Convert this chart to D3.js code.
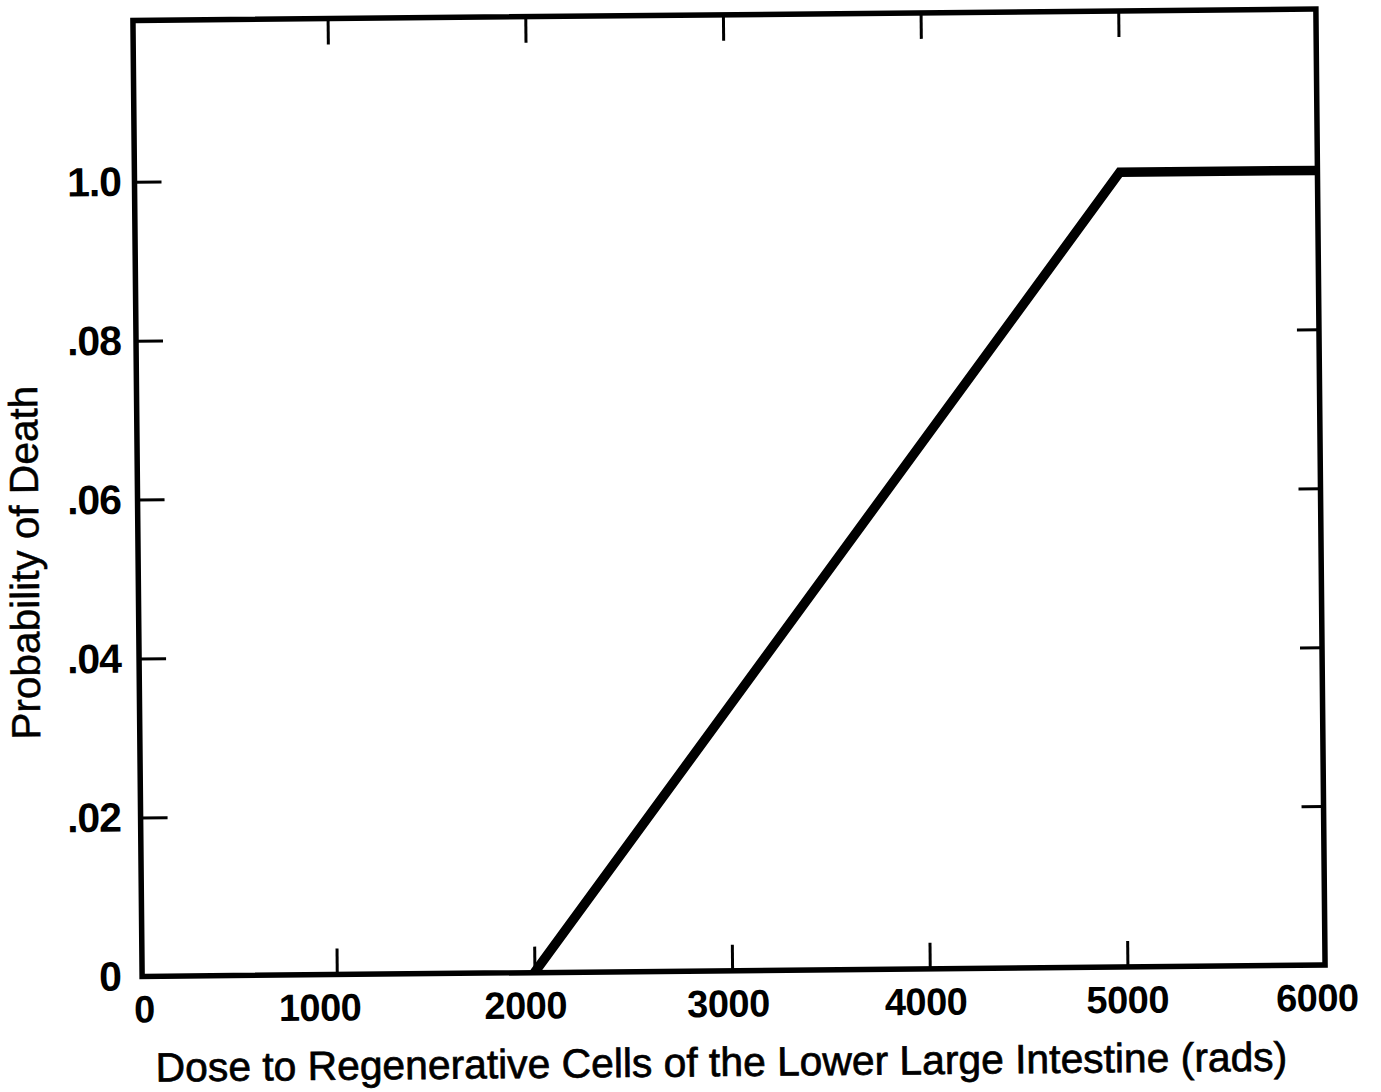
<!DOCTYPE html>
<html>
<head>
<meta charset="utf-8">
<script src="https://cdn.jsdelivr.net/npm/d3@7"></script>
<style>
  html, body { margin: 0; padding: 0; background: #fff; }
  svg { display: block; }
</style>
</head>
<body>
<svg id="chart" width="1381" height="1092"></svg>
<script>
// ---- data ----
const doses = [2000, 5000, 6000];                 // rads
const probabilities = [0, 0.10, 0.10];            // probability of death (as plotted)
const xTickValues = [0, 1000, 2000, 3000, 4000, 5000, 6000];
const xTickLabels = ["0", "1000", "2000", "3000", "4000", "5000", "6000"];
const yTickValues = [0, 0.02, 0.04, 0.06, 0.08, 0.10];
const yTickLabels = ["0", ".02", ".04", ".06", ".08", "1.0"];
const xTitle = "Dose to Regenerative Cells of the Lower Large Intestine (rads)";
const yTitle = "Probability of Death";

// ---- layout ----
const frame = { left: 137.5, right: 1320.5, top: 14.75, bottom: 970.75 };
const cx = (frame.left + frame.right) / 2, cy = (frame.top + frame.bottom) / 2;
const tilt = -0.55;
const sinT = Math.sin(-tilt * Math.PI / 180);
// hand-lettered label offsets in the original (layout only)
const xLabelNudge = [5, -17, -9, -4, -4, 0, -8];

const svg = d3.select("#chart");
const g = svg.append("g").attr("transform", `rotate(${tilt},${cx},${cy})`);

const x = d3.scaleLinear().domain([0, 6000]).range([134.5, frame.right]);
const y = d3.scaleLinear().domain([0, 0.1203]).range([frame.bottom, frame.top]);

const font = "'Liberation Sans', Arial, Helvetica, sans-serif";

// inner ticks
const xInner = xTickValues.filter(v => v > 0 && v < 6000);
const yInner = yTickValues.filter(v => v > 0);

const bottomAxis = d3.axisBottom(x).tickValues(xInner).tickSize(-26).tickFormat("");
const topAxis = d3.axisTop(x).tickValues(xInner).tickSize(-26).tickFormat("");
const leftAxis = d3.axisLeft(y).tickValues(yInner).tickSize(-27).tickFormat("");
const rightAxis = d3.axisRight(y).tickValues(yInner).tickSize(-22).tickFormat("");

function styleAxis(sel) {
  sel.select(".domain").remove();
  sel.selectAll(".tick line").attr("stroke", "#000").attr("stroke-width", 3);
}
g.append("g").attr("transform", `translate(0,${frame.bottom})`).call(bottomAxis).call(styleAxis);
g.append("g").attr("transform", `translate(0,${frame.top})`).call(topAxis).call(styleAxis);
g.append("g").attr("transform", `translate(${frame.left},0)`).call(leftAxis).call(styleAxis);
g.append("g").attr("transform", `translate(${frame.right},0)`).call(rightAxis).call(styleAxis);

// data line
g.append("defs").append("clipPath").attr("id", "plotClip")
  .append("rect")
  .attr("x", frame.left).attr("y", frame.top)
  .attr("width", frame.right - frame.left).attr("height", frame.bottom - frame.top);

const pts = doses.map((d, i) => [d, probabilities[i]]);
g.append("path")
  .datum(pts)
  .attr("clip-path", "url(#plotClip)")
  .attr("d", d3.line().x(d => x(d[0])).y(d => y(d[1])))
  .attr("fill", "none")
  .attr("stroke", "#000")
  .attr("stroke-width", 9.5)
  .attr("stroke-linejoin", "miter");

// frame
g.append("rect")
  .attr("x", frame.left).attr("y", frame.top)
  .attr("width", frame.right - frame.left).attr("height", frame.bottom - frame.top)
  .attr("fill", "none").attr("stroke", "#000").attr("stroke-width", 5.5);

// x tick labels
g.append("g").selectAll("text")
  .data(xTickValues)
  .join("text")
  .attr("x", (d, i) => x(d) + xLabelNudge[i])
  .attr("y", frame.bottom + 46)
  .attr("text-anchor", "middle")
  .attr("font-family", font)
  .attr("font-weight", "bold")
  .attr("font-size", 38)
  .attr("letter-spacing", -0.5)
  .text((d, i) => xTickLabels[i]);

// y tick labels (right edges aligned in page space, as in the original)
g.append("g").selectAll("text")
  .data(yTickValues)
  .join("text")
  .attr("x", d => 121 - sinT * (y(d) - cy))
  .attr("y", d => y(d) + 14)
  .attr("text-anchor", "end")
  .attr("font-family", font)
  .attr("font-weight", "bold")
  .attr("font-size", 41)
  .attr("letter-spacing", -1)
  .text((d, i) => yTickLabels[i]);

// titles
function fitText(sel, target, base) {
  const len = sel.node().getComputedTextLength();
  sel.attr("font-size", base * target / len);
}
const xt = g.append("text")
  .attr("x", 716).attr("y", 1076)
  .attr("text-anchor", "middle")
  .attr("font-family", font)
  .attr("font-size", 39)
  .attr("fill", "#000").attr("stroke", "#000").attr("stroke-width", 0.7)
  .text(xTitle);
fitText(xt, 1132, 39);

const yt = g.append("text")
  .attr("transform", "translate(38,556) rotate(-90)")
  .attr("text-anchor", "middle")
  .attr("font-family", font)
  .attr("font-size", 32)
  .attr("fill", "#000").attr("stroke", "#000").attr("stroke-width", 0.5)
  .text(yTitle);
fitText(yt, 354, 32);
</script>
</body>
</html>
